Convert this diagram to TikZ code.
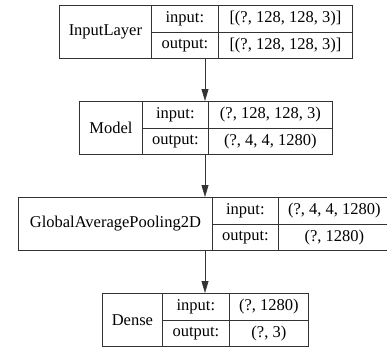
\documentclass[tikz,border=0pt]{standalone}
\usepackage{fontspec}
\setmainfont{Liberation Serif}
\usepackage{tikz}
\usetikzlibrary{arrows.meta, positioning}
\tikzset{>=latex}
\tikzset{
  cell/.style={draw=black!80, line width=0.8pt, minimum height=26.5pt,
    inner sep=0pt, anchor=north west,
    font=\fontsize{16.5}{18}\selectfont},
  namecell/.style={cell, minimum height=53pt},
  flow/.style={-{Triangle[length=12pt, width=7pt]}, line width=0.8pt, draw=black!80},
}

\begin{document}
\begin{tikzpicture}[x=1pt, y=-1pt]
    \useasboundingbox (0, 0) rectangle (387, 349);
    % InputLayer
    \node[namecell, minimum width=92pt] (L1name) at (59, 5) {InputLayer};
    \node[cell, minimum width=67pt] (L1in) at (151, 5) {input:};
    \node[cell, minimum width=134pt] (L1inv) at (218, 5) {[(?, 128, 128, 3)]};
    \node[cell, minimum width=67pt] (L1out) at (151, 31.5) {output:};
    \node[cell, minimum width=134pt] (L1outv) at (218, 31.5) {[(?, 128, 128, 3)]};
    % Model
    \node[namecell, minimum width=63pt] (L2name) at (79, 101) {Model};
    \node[cell, minimum width=66pt] (L2in) at (142, 101) {input:};
    \node[cell, minimum width=124pt] (L2inv) at (208, 101) {(?, 128, 128, 3)};
    \node[cell, minimum width=66pt] (L2out) at (142, 127.5) {output:};
    \node[cell, minimum width=124pt] (L2outv) at (208, 127.5) {(?, 4, 4, 1280)};
    % GlobalAveragePooling2D
    \node[namecell, minimum width=194pt] (L3name) at (18, 197) {GlobalAveragePooling2D};
    \node[cell, minimum width=66pt] (L3in) at (212, 197) {input:};
    \node[cell, minimum width=112pt] (L3inv) at (278, 197) {(?, 4, 4, 1280)};
    \node[cell, minimum width=66pt] (L3out) at (212, 223.5) {output:};
    \node[cell, minimum width=112pt] (L3outv) at (278, 223.5) {(?, 1280)};
    % Dense
    \node[namecell, minimum width=60pt] (L4name) at (102, 293) {Dense};
    \node[cell, minimum width=67pt] (L4in) at (162, 293) {input:};
    \node[cell, minimum width=79pt] (L4inv) at (229, 293) {(?, 1280)};
    \node[cell, minimum width=67pt] (L4out) at (162, 319.5) {output:};
    \node[cell, minimum width=79pt] (L4outv) at (229, 319.5) {(?, 3)};
    % edges
    \coordinate (spine) at (205, 0);
    \draw[flow] (L1out.south -| spine) -- (L2in.north -| spine);
    \draw[flow] (L2out.south -| spine) -- (L3name.north -| spine);
    \draw[flow] (L3name.south -| spine) -- (L4in.north -| spine);
\end{tikzpicture}
\end{document}
